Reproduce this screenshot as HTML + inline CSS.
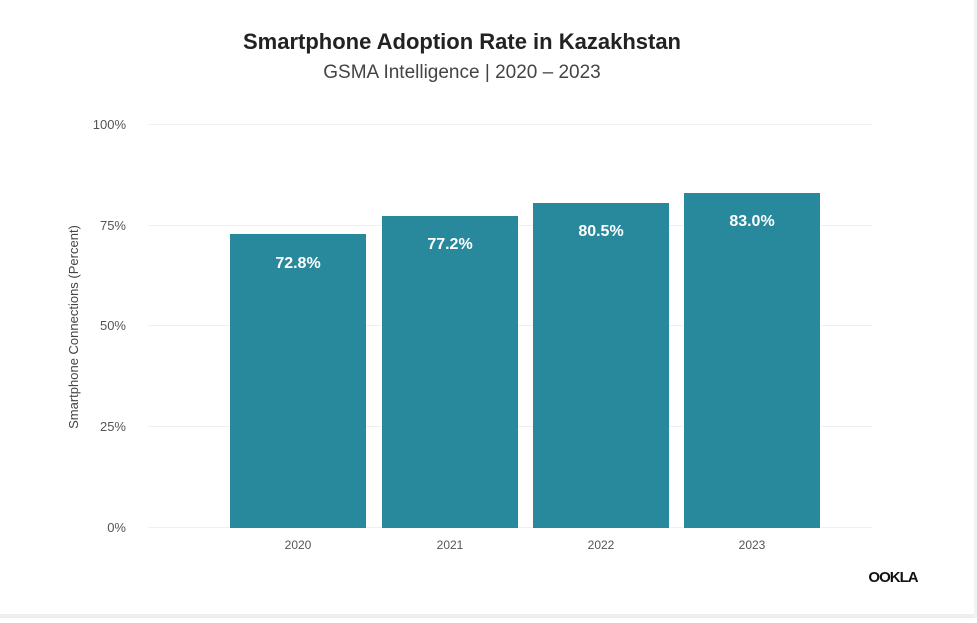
<!DOCTYPE html>
<html><head><style>
body{margin:0;width:977px;height:618px;background:#fff;overflow:hidden;font-family:"Liberation Sans",sans-serif;}
</style></head><body>
<svg width="977" height="618" xmlns="http://www.w3.org/2000/svg" font-family="Liberation Sans, sans-serif">
<rect x="0" y="614" width="977" height="4" fill="#eeeeee"/>
<rect x="974" y="0" width="3" height="618" fill="#f2f2f2"/>
<text x="462" y="49" text-anchor="middle" font-size="22" font-weight="bold" fill="#222">Smartphone Adoption Rate in Kazakhstan</text>
<text x="462" y="78" text-anchor="middle" font-size="19" fill="#444">GSMA Intelligence | 2020 – 2023</text>
<g stroke="#f0f0f0" stroke-width="1">
<line x1="148" x2="872" y1="124.5" y2="124.5"/>
<line x1="148" x2="872" y1="225.5" y2="225.5"/>
<line x1="148" x2="872" y1="325.5" y2="325.5"/>
<line x1="148" x2="872" y1="426.5" y2="426.5"/>
<line x1="148" x2="872" y1="527.5" y2="527.5"/>
</g>
<g font-size="13" fill="#555" text-anchor="end">
<text x="126" y="129">100%</text>
<text x="126" y="230">75%</text>
<text x="126" y="330">50%</text>
<text x="126" y="431">25%</text>
<text x="126" y="532">0%</text>
</g>
<text transform="translate(78,327) rotate(-90)" text-anchor="middle" font-size="13" fill="#444">Smartphone Connections (Percent)</text>
<g fill="#28889c">
<rect x="230" y="234" width="136" height="294"/>
<rect x="382" y="216" width="136" height="312"/>
<rect x="533" y="203" width="136" height="325"/>
<rect x="684" y="193" width="136" height="335"/>
</g>
<g font-size="16" font-weight="bold" fill="#fff" text-anchor="middle">
<text x="298" y="268">72.8%</text>
<text x="450" y="249">77.2%</text>
<text x="601" y="236">80.5%</text>
<text x="752" y="226">83.0%</text>
</g>
<g font-size="12" fill="#555" text-anchor="middle">
<text x="298" y="549">2020</text>
<text x="450" y="549">2021</text>
<text x="601" y="549">2022</text>
<text x="752" y="549">2023</text>
</g>
<text x="893" y="582" text-anchor="middle" font-size="15" font-weight="bold" fill="#111" letter-spacing="-1">OOKLA</text>
</svg>
</body></html>
